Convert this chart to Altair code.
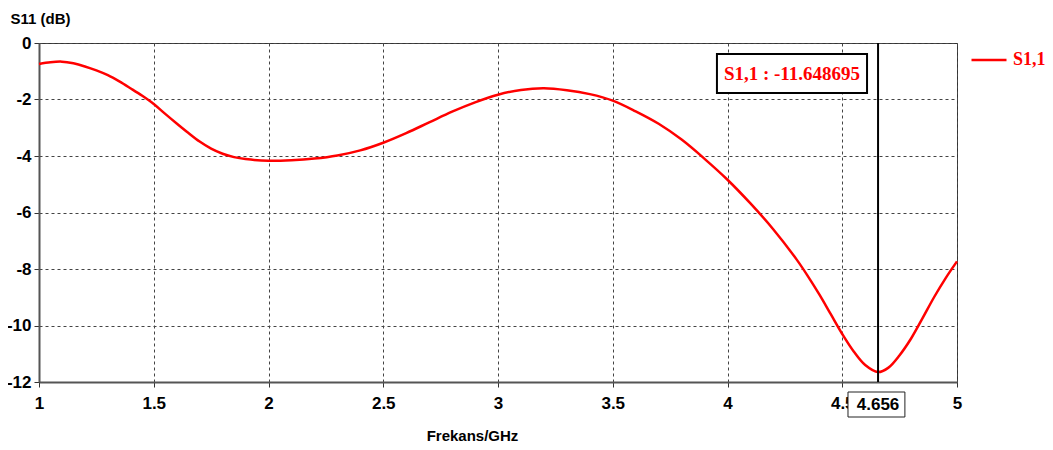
import altair as alt
import pandas as pd

# ---- data ----
freq = [1.0, 1.05, 1.1, 1.15, 1.2, 1.25, 1.3, 1.35, 1.4, 1.45, 1.5, 1.55, 1.6, 1.65,
        1.7, 1.75, 1.8, 1.85, 1.9, 2.0, 2.1, 2.2, 2.3, 2.4, 2.5, 2.6, 2.7, 2.8, 2.9,
        3.0, 3.1, 3.2, 3.3, 3.4, 3.5, 3.6, 3.7, 3.8, 3.9, 4.0, 4.1, 4.2, 4.3, 4.35,
        4.4, 4.45, 4.5, 4.55, 4.6, 4.656, 4.7, 4.75, 4.8, 4.85, 4.9, 4.95, 5.0]
s11 = [-0.74, -0.68, -0.66, -0.72, -0.83, -0.97, -1.14, -1.36, -1.61, -1.87, -2.16,
       -2.51, -2.85, -3.18, -3.49, -3.74, -3.92, -4.04, -4.11, -4.17, -4.15, -4.09,
       -3.98, -3.8, -3.53, -3.19, -2.81, -2.43, -2.1, -1.83, -1.66, -1.6, -1.67,
       -1.81, -2.04, -2.42, -2.86, -3.42, -4.1, -4.84, -5.68, -6.6, -7.65, -8.25,
       -8.9, -9.6, -10.3, -10.92, -11.4, -11.648695, -11.5, -11.05, -10.46,
       -9.74, -9.0, -8.33, -7.73]
series_name = "S1,1"

x_ticks = [1, 1.5, 2, 2.5, 3, 3.5, 4, 4.5, 5]
y_ticks = [-12, -10, -8, -6, -4, -2, 0]

marker_freq = 4.656
marker_value = -11.648695
marker_label = "S1,1 : -11.648695"
marker_freq_label = "4.656"

# annotation boxes (data units)
val_box_x = [3.954, 4.608]
val_box_y = [-0.39, -1.77]
freq_box_x = [4.525, 4.773]
freq_box_y = [-12.354, -13.239]

df = pd.DataFrame({"f": freq, "s": s11, "series": [series_name] * len(freq)})

xscale = alt.Scale(domain=[1, 5], nice=False, zero=False)
yscale = alt.Scale(domain=[-12, 0], nice=False, zero=False)

tick_font = "Liberation Sans"

line = alt.Chart(df).mark_line(strokeWidth=2.5, interpolate="catmull-rom").encode(
    x=alt.X("f:Q", scale=xscale,
            axis=alt.Axis(values=x_ticks, title="Frekans/GHz",
                          labelExpr="'' + datum.value", labelFlush=False,
                          titleX=433, titleY=53, titleAlign="center",
                          titleBaseline="middle", labelPadding=8)),
    y=alt.Y("s:Q", scale=yscale,
            axis=alt.Axis(values=y_ticks, title="S11 (dB)",
                          labelExpr="'' + datum.value", labelFlush=False,
                          titleAngle=0, titleX=-29, titleY=-25,
                          titleAlign="left", titleBaseline="middle",
                          labelPadding=3)),
    color=alt.Color("series:N", scale=alt.Scale(range=["#ff0000"]),
                    legend=alt.Legend(title=None, orient="none", legendX=931, legendY=-2,
                                      symbolType="stroke", symbolStrokeWidth=2.5,
                                      symbolSize=1225, labelFont="Liberation Serif",
                                      labelFontSize=18, labelFontWeight="bold",
                                      labelColor="#ff0000", labelOffset=5, padding=0)),
)

mdf = pd.DataFrame({"f": [marker_freq], "top": [0], "bot": [-12]})
marker = alt.Chart(mdf).mark_rule(color="black", strokeWidth=2).encode(
    x=alt.X("f:Q", scale=xscale), y=alt.Y("top:Q", scale=yscale), y2="bot:Q")

vbox_df = pd.DataFrame({"x1": [val_box_x[0]], "x2": [val_box_x[1]],
                        "y1": [val_box_y[0]], "y2": [val_box_y[1]],
                        "xc": [(val_box_x[0] + val_box_x[1]) / 2],
                        "yc": [(val_box_y[0] + val_box_y[1]) / 2],
                        "t": [marker_label]})
vbox = alt.Chart(vbox_df).mark_rect(fill="white", stroke="black", strokeWidth=2).encode(
    x=alt.X("x1:Q", scale=xscale), x2="x2:Q",
    y=alt.Y("y1:Q", scale=yscale), y2="y2:Q")
vtext = alt.Chart(vbox_df).mark_text(font="Liberation Serif", fontSize=19, fontWeight="bold",
                                     color="#ff0000", baseline="middle", align="center").encode(
    x=alt.X("xc:Q", scale=xscale), y=alt.Y("yc:Q", scale=yscale), text="t:N")

fbox_df = pd.DataFrame({"x1": [freq_box_x[0]], "x2": [freq_box_x[1]],
                        "y1": [freq_box_y[0]], "y2": [freq_box_y[1]],
                        "xc": [marker_freq],
                        "yc": [(freq_box_y[0] + freq_box_y[1]) / 2],
                        "t": [marker_freq_label]})
fbox = alt.Chart(fbox_df).mark_rect(fill="white", stroke="#222", strokeWidth=1).encode(
    x=alt.X("x1:Q", scale=xscale), x2="x2:Q",
    y=alt.Y("y1:Q", scale=yscale), y2="y2:Q")
ftext = alt.Chart(fbox_df).mark_text(font=tick_font, fontSize=17, fontWeight="bold",
                                     color="black", baseline="middle", align="center").encode(
    x=alt.X("xc:Q", scale=xscale), y=alt.Y("yc:Q", scale=yscale), text="t:N")

chart = alt.layer(line, marker, vbox, vtext, fbox, ftext).properties(
    width=918, height=339,
    autosize=alt.AutoSizeParams(type="none"),
    padding={"left": 31, "top": 35, "right": 88, "bottom": 60},
    background="white",
).configure_view(
    stroke="#333", strokeWidth=1
).configure_axis(
    grid=True, gridColor="#444", gridDash=[3, 3], gridWidth=1, gridOpacity=1,
    domainColor="#555", domainWidth=2, tickColor="#333", tickSize=5, tickWidth=1,
    labelFont=tick_font, labelFontSize=17, labelFontWeight="bold", labelColor="black",
    titleFont=tick_font, titleFontSize=15, titleFontWeight="bold", titleColor="black",
)

chart.save("out.html", embed_options={"renderer": "svg", "actions": False})
